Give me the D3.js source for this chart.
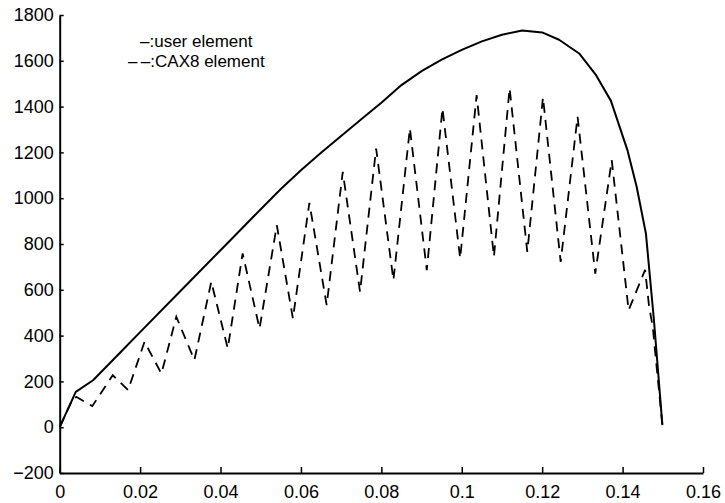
<!DOCTYPE html>
<html>
<head>
<meta charset="utf-8">
<script src="https://cdn.jsdelivr.net/npm/d3@7"></script>
<style>
  html, body { margin: 0; padding: 0; background: #fff; }
  svg { display: block; }
  text { font-family: "Liberation Sans", Arial, Helvetica, sans-serif; fill: #000; }
</style>
</head>
<body>
<svg id="chart" width="725" height="503"></svg>
<script>
// Axis ticks and labels
const xTicks = [0, 0.02, 0.04, 0.06, 0.08, 0.1, 0.12, 0.14, 0.16];
const xTickLabels = ["0", "0.02", "0.04", "0.06", "0.08", "0.1", "0.12", "0.14", "0.16"];
const yTicks = [-200, 0, 200, 400, 600, 800, 1000, 1200, 1400, 1600, 1800];
const yTickLabels = ["\u2212200", "0", "200", "400", "600", "800", "1000", "1200", "1400", "1600", "1800"];

// Series 1: user element (solid)
const userX = [0, 0.004, 0.0083, 0.015, 0.02, 0.029, 0.04, 0.045, 0.05, 0.055, 0.06, 0.065,
  0.07, 0.075, 0.08, 0.085, 0.09, 0.095, 0.1, 0.105, 0.11, 0.115, 0.12, 0.1242, 0.1292,
  0.1333, 0.1371, 0.1412, 0.1435, 0.1458, 0.1478, 0.1499];
const userY = [0, 154, 205, 325, 415, 576, 773, 862, 952, 1040, 1122, 1198,
  1272, 1345, 1417, 1494, 1555, 1605, 1648, 1685, 1714, 1732, 1724, 1692, 1632,
  1540, 1425, 1210, 1050, 846, 467, 9];

// Series 2: CAX8 element (dashed)
const caxX = [0, 0.0033, 0.0042, 0.0081, 0.0132, 0.017, 0.0211, 0.0253, 0.029, 0.0335, 0.0377,
  0.0418, 0.0455, 0.0497, 0.054, 0.058, 0.0621, 0.0664, 0.0704, 0.0747, 0.0787, 0.083, 0.0871,
  0.0913, 0.0952, 0.0996, 0.1037, 0.108, 0.1119, 0.1163, 0.1202, 0.1246, 0.1288, 0.1332, 0.1373,
  0.1415, 0.1456, 0.1466, 0.1475, 0.1483, 0.1499];
const caxY = [0, 126, 132, 92, 227, 162, 373, 234, 482, 293, 635,
  344, 759, 431, 882, 475, 980, 533, 1115, 591, 1217, 642, 1305,
  686, 1392, 737, 1450, 745, 1480, 766, 1440, 722, 1356, 671, 1166,
  511, 687, 526, 439, 293, 9];

const legendLines = ["\u2013:user element", "\u2013\u2009\u2013:CAX8 element"];

const svg = d3.select("#chart");

const x = d3.scaleLinear().domain([0, 0.16]).range([59.7, 703]);
const y = d3.scaleLinear().domain([-200, 1800]).range([473, 15]);

// Bottom axis with inward ticks
const gx = svg.append("g")
  .attr("transform", `translate(0,${y(-200)})`)
  .call(d3.axisBottom(x)
    .tickValues(xTicks)
    .tickFormat((d, i) => xTickLabels[i])
    .tickSizeInner(-6)
    .tickSizeOuter(0)
    .tickPadding(12));

// Left axis with inward ticks
const gy = svg.append("g")
  .attr("transform", `translate(${x(0)},0)`)
  .call(d3.axisLeft(y)
    .tickValues(yTicks)
    .tickFormat((d, i) => yTickLabels[i])
    .tickSizeInner(-4)
    .tickSizeOuter(0)
    .tickPadding(6));

[gx, gy].forEach(g => {
  g.select(".domain").attr("stroke", "#000").attr("stroke-width", 2);
  g.selectAll(".tick line").attr("stroke", "#000").attr("stroke-width", 1.5);
  g.selectAll(".tick text")
    .attr("font-size", 18)
    .attr("font-family", "'Liberation Sans', Arial, Helvetica, sans-serif")
    .attr("fill", "#000");
});

const line = d3.line()
  .x(d => x(d[0]))
  .y(d => y(d[1]));

const userData = userX.map((v, i) => [v, userY[i]]);
const caxData = caxX.map((v, i) => [v, caxY[i]]);

svg.append("path")
  .datum(caxData)
  .attr("d", line)
  .attr("fill", "none")
  .attr("stroke", "#000")
  .attr("stroke-width", 1.8)
  .attr("stroke-dasharray", "10,7");

svg.append("path")
  .datum(userData)
  .attr("d", line)
  .attr("fill", "none")
  .attr("stroke", "#000")
  .attr("stroke-width", 2)
  .attr("stroke-linejoin", "round");

// Legend text
const legend = svg.append("g").attr("font-size", 17);
legend.append("text").attr("x", 140).attr("y", 47).text(legendLines[0]);
legend.append("text").attr("x", 128).attr("y", 67).text(legendLines[1]);
</script>
</body>
</html>
